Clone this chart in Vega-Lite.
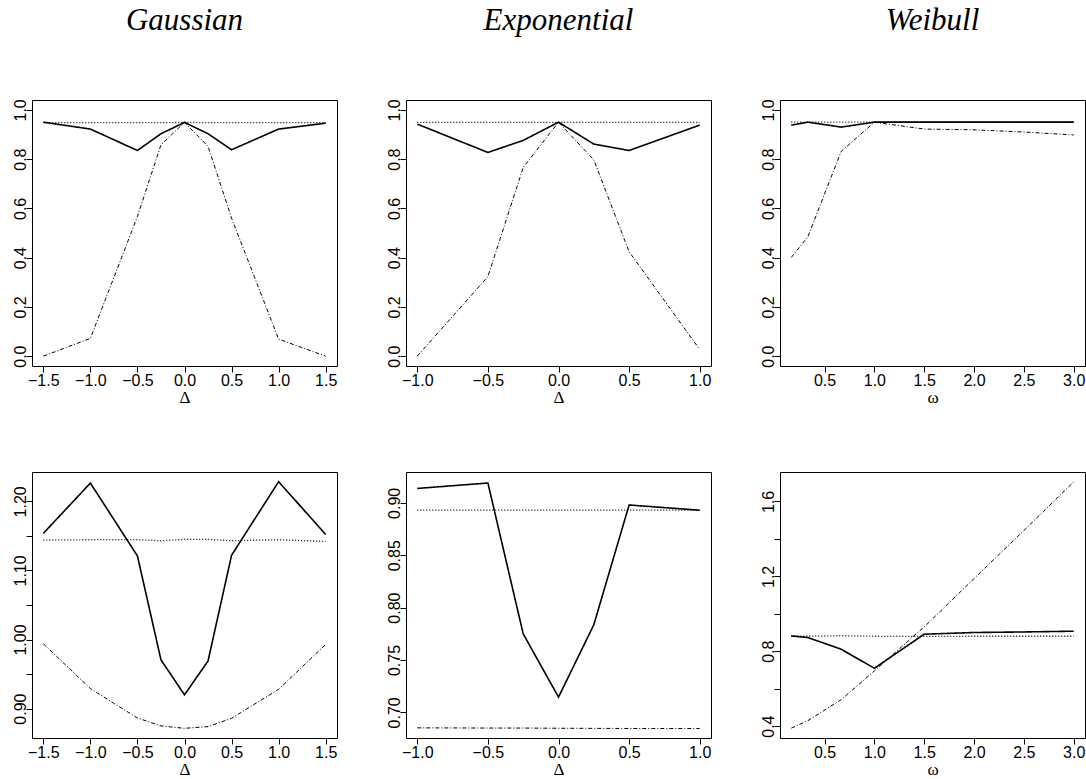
{
  "$schema": "https://vega.github.io/schema/vega-lite/v6.json",
  "padding": {"left": 11, "top": 4, "right": 0, "bottom": 0},
  "background": "white",
  "datasets": {
    "g1": [
      {"x": -1.5, "y": 0.950, "s": "solid"}, {"x": -1.0, "y": 0.922, "s": "solid"}, {"x": -0.5, "y": 0.835, "s": "solid"}, {"x": -0.25, "y": 0.903, "s": "solid"}, {"x": 0.0, "y": 0.949, "s": "solid"}, {"x": 0.25, "y": 0.903, "s": "solid"}, {"x": 0.5, "y": 0.838, "s": "solid"}, {"x": 1.0, "y": 0.922, "s": "solid"}, {"x": 1.5, "y": 0.946, "s": "solid"},
      {"x": -1.5, "y": 0.948, "s": "dotted"}, {"x": -1.0, "y": 0.948, "s": "dotted"}, {"x": -0.5, "y": 0.948, "s": "dotted"}, {"x": -0.25, "y": 0.948, "s": "dotted"}, {"x": 0.0, "y": 0.949, "s": "dotted"}, {"x": 0.25, "y": 0.948, "s": "dotted"}, {"x": 0.5, "y": 0.948, "s": "dotted"}, {"x": 1.0, "y": 0.948, "s": "dotted"}, {"x": 1.5, "y": 0.948, "s": "dotted"},
      {"x": -1.5, "y": 0.000, "s": "dashdot"}, {"x": -1.0, "y": 0.072, "s": "dashdot"}, {"x": -0.5, "y": 0.567, "s": "dashdot"}, {"x": -0.25, "y": 0.858, "s": "dashdot"}, {"x": 0.0, "y": 0.949, "s": "dashdot"}, {"x": 0.25, "y": 0.852, "s": "dashdot"}, {"x": 0.5, "y": 0.560, "s": "dashdot"}, {"x": 1.0, "y": 0.069, "s": "dashdot"}, {"x": 1.5, "y": 0.000, "s": "dashdot"}
    ],
    "e1": [
      {"x": -1.0, "y": 0.942, "s": "solid"}, {"x": -0.5, "y": 0.827, "s": "solid"}, {"x": -0.25, "y": 0.876, "s": "solid"}, {"x": 0.0, "y": 0.950, "s": "solid"}, {"x": 0.25, "y": 0.861, "s": "solid"}, {"x": 0.5, "y": 0.835, "s": "solid"}, {"x": 1.0, "y": 0.938, "s": "solid"},
      {"x": -1.0, "y": 0.949, "s": "dotted"}, {"x": -0.5, "y": 0.949, "s": "dotted"}, {"x": -0.25, "y": 0.949, "s": "dotted"}, {"x": 0.0, "y": 0.949, "s": "dotted"}, {"x": 0.25, "y": 0.949, "s": "dotted"}, {"x": 0.5, "y": 0.949, "s": "dotted"}, {"x": 1.0, "y": 0.949, "s": "dotted"},
      {"x": -1.0, "y": 0.000, "s": "dashdot"}, {"x": -0.5, "y": 0.323, "s": "dashdot"}, {"x": -0.25, "y": 0.766, "s": "dashdot"}, {"x": 0.0, "y": 0.950, "s": "dashdot"}, {"x": 0.25, "y": 0.797, "s": "dashdot"}, {"x": 0.5, "y": 0.424, "s": "dashdot"}, {"x": 1.0, "y": 0.027, "s": "dashdot"}
    ],
    "w1": [
      {"x": 0.1667, "y": 0.938, "s": "solid"}, {"x": 0.3333, "y": 0.950, "s": "solid"}, {"x": 0.6667, "y": 0.930, "s": "solid"}, {"x": 1.0, "y": 0.950, "s": "solid"}, {"x": 1.5, "y": 0.950, "s": "solid"}, {"x": 2.0, "y": 0.950, "s": "solid"}, {"x": 2.5, "y": 0.950, "s": "solid"}, {"x": 3.0, "y": 0.950, "s": "solid"},
      {"x": 0.1667, "y": 0.950, "s": "dotted"}, {"x": 0.3333, "y": 0.950, "s": "dotted"}, {"x": 0.6667, "y": 0.950, "s": "dotted"}, {"x": 1.0, "y": 0.950, "s": "dotted"}, {"x": 1.5, "y": 0.950, "s": "dotted"}, {"x": 2.0, "y": 0.950, "s": "dotted"}, {"x": 2.5, "y": 0.950, "s": "dotted"}, {"x": 3.0, "y": 0.950, "s": "dotted"},
      {"x": 0.1667, "y": 0.401, "s": "dashdot"}, {"x": 0.3333, "y": 0.485, "s": "dashdot"}, {"x": 0.6667, "y": 0.831, "s": "dashdot"}, {"x": 1.0, "y": 0.950, "s": "dashdot"}, {"x": 1.5, "y": 0.922, "s": "dashdot"}, {"x": 2.0, "y": 0.919, "s": "dashdot"}, {"x": 2.5, "y": 0.910, "s": "dashdot"}, {"x": 3.0, "y": 0.898, "s": "dashdot"}
    ],
    "g2": [
      {"x": -1.5, "y": 1.1536, "s": "solid"}, {"x": -1.0, "y": 1.2265, "s": "solid"}, {"x": -0.5, "y": 1.121, "s": "solid"}, {"x": -0.25, "y": 0.9706, "s": "solid"}, {"x": 0.0, "y": 0.920, "s": "solid"}, {"x": 0.25, "y": 0.969, "s": "solid"}, {"x": 0.5, "y": 1.122, "s": "solid"}, {"x": 1.0, "y": 1.2285, "s": "solid"}, {"x": 1.5, "y": 1.152, "s": "solid"},
      {"x": -1.5, "y": 1.144, "s": "dotted"}, {"x": -1.0, "y": 1.1445, "s": "dotted"}, {"x": -0.5, "y": 1.1445, "s": "dotted"}, {"x": -0.25, "y": 1.143, "s": "dotted"}, {"x": 0.0, "y": 1.145, "s": "dotted"}, {"x": 0.25, "y": 1.145, "s": "dotted"}, {"x": 0.5, "y": 1.143, "s": "dotted"}, {"x": 1.0, "y": 1.1445, "s": "dotted"}, {"x": 1.5, "y": 1.142, "s": "dotted"},
      {"x": -1.5, "y": 0.994, "s": "dashdot"}, {"x": -1.0, "y": 0.929, "s": "dashdot"}, {"x": -0.5, "y": 0.8865, "s": "dashdot"}, {"x": -0.25, "y": 0.875, "s": "dashdot"}, {"x": 0.0, "y": 0.8715, "s": "dashdot"}, {"x": 0.25, "y": 0.874, "s": "dashdot"}, {"x": 0.5, "y": 0.886, "s": "dashdot"}, {"x": 1.0, "y": 0.928, "s": "dashdot"}, {"x": 1.5, "y": 0.993, "s": "dashdot"}
    ],
    "e2": [
      {"x": -1.0, "y": 0.9138, "s": "solid"}, {"x": -0.5, "y": 0.919, "s": "solid"}, {"x": -0.25, "y": 0.775, "s": "solid"}, {"x": 0.0, "y": 0.7145, "s": "solid"}, {"x": 0.25, "y": 0.7836, "s": "solid"}, {"x": 0.5, "y": 0.898, "s": "solid"}, {"x": 1.0, "y": 0.893, "s": "solid"},
      {"x": -1.0, "y": 0.893, "s": "dotted"}, {"x": -0.5, "y": 0.893, "s": "dotted"}, {"x": -0.25, "y": 0.893, "s": "dotted"}, {"x": 0.0, "y": 0.893, "s": "dotted"}, {"x": 0.25, "y": 0.893, "s": "dotted"}, {"x": 0.5, "y": 0.893, "s": "dotted"}, {"x": 1.0, "y": 0.893, "s": "dotted"},
      {"x": -1.0, "y": 0.6852, "s": "dashdot"}, {"x": -0.5, "y": 0.685, "s": "dashdot"}, {"x": -0.25, "y": 0.685, "s": "dashdot"}, {"x": 0.0, "y": 0.6848, "s": "dashdot"}, {"x": 0.25, "y": 0.6847, "s": "dashdot"}, {"x": 0.5, "y": 0.6846, "s": "dashdot"}, {"x": 1.0, "y": 0.6846, "s": "dashdot"}
    ],
    "w2": [
      {"x": 0.1667, "y": 0.882, "s": "solid"}, {"x": 0.3333, "y": 0.873, "s": "solid"}, {"x": 0.6667, "y": 0.811, "s": "solid"}, {"x": 1.0, "y": 0.709, "s": "solid"}, {"x": 1.5, "y": 0.891, "s": "solid"}, {"x": 2.0, "y": 0.900, "s": "solid"}, {"x": 2.5, "y": 0.903, "s": "solid"}, {"x": 3.0, "y": 0.907, "s": "solid"},
      {"x": 0.1667, "y": 0.880, "s": "dotted"}, {"x": 0.3333, "y": 0.880, "s": "dotted"}, {"x": 0.6667, "y": 0.883, "s": "dotted"}, {"x": 1.0, "y": 0.880, "s": "dotted"}, {"x": 1.5, "y": 0.879, "s": "dotted"}, {"x": 2.0, "y": 0.880, "s": "dotted"}, {"x": 2.5, "y": 0.880, "s": "dotted"}, {"x": 3.0, "y": 0.880, "s": "dotted"},
      {"x": 0.1667, "y": 0.389, "s": "dashdot"}, {"x": 0.3333, "y": 0.429, "s": "dashdot"}, {"x": 0.6667, "y": 0.541, "s": "dashdot"}, {"x": 1.0, "y": 0.695, "s": "dashdot"}, {"x": 1.5, "y": 0.930, "s": "dashdot"}, {"x": 2.0, "y": 1.188, "s": "dashdot"}, {"x": 2.5, "y": 1.445, "s": "dashdot"}, {"x": 3.0, "y": 1.705, "s": "dashdot"}
    ]
  },
  "config": {
    "view": {"stroke": "black", "strokeWidth": 1},
    "axis": {"grid": false, "domain": false, "ticks": true, "tickColor": "black", "tickSize": 6, "tickWidth": 1,
      "labelFont": "Liberation Sans", "labelFontSize": 16, "labelColor": "black",
      "titleFont": "Liberation Serif", "titleFontWeight": "normal", "titleFontSize": 17, "titleColor": "black"},
    "axisY": {"labelAngle": -90, "labelAlign": "center", "labelBaseline": "alphabetic", "labelPadding": 1, "title": null},
    "axisX": {"labelPadding": 0, "titlePadding": 1, "labelFlush": false, "labelOverlap": false},
    "title": {"font": "Liberation Serif", "fontStyle": "italic", "fontWeight": "normal", "fontSize": 31, "color": "black", "anchor": "middle", "frame": "group", "baseline": "alphabetic", "offset": 62},
    "line": {"color": "black"}
  },
  "spacing": 65,
  "vconcat": [
    {
      "spacing": 47,
      "hconcat": [
        {
          "data": {"name": "g1"}, "width": 305, "height": 266, "title": "Gaussian",
          "mark": {"type": "line"},
          "encoding": {
            "x": {"field": "x", "type": "quantitative", "scale": {"domain": [-1.62, 1.62], "nice": false, "zero": false}, "axis": {"values": [-1.5, -1, -0.5, 0, 0.5, 1, 1.5], "format": ".1f", "title": "Δ"}},
            "y": {"field": "y", "type": "quantitative", "scale": {"domain": [-0.04, 1.04], "nice": false, "zero": false}, "axis": {"values": [0, 0.2, 0.4, 0.6, 0.8, 1.0], "format": ".1f"}},
            "strokeDash": {"field": "s", "type": "nominal", "scale": {"domain": ["solid", "dotted", "dashdot"], "range": [[1, 0], [1, 2], [4, 2, 1, 2]]}, "legend": null},
            "strokeWidth": {"field": "s", "type": "ordinal", "scale": {"domain": ["solid", "dotted", "dashdot"], "range": [1.6, 1, 1]}, "legend": null}
          }
        },
        {
          "data": {"name": "e1"}, "width": 305, "height": 266, "title": "Exponential",
          "mark": {"type": "line"},
          "encoding": {
            "x": {"field": "x", "type": "quantitative", "scale": {"domain": [-1.08, 1.08], "nice": false, "zero": false}, "axis": {"values": [-1, -0.5, 0, 0.5, 1], "format": ".1f", "title": "Δ"}},
            "y": {"field": "y", "type": "quantitative", "scale": {"domain": [-0.04, 1.04], "nice": false, "zero": false}, "axis": {"values": [0, 0.2, 0.4, 0.6, 0.8, 1.0], "format": ".1f"}},
            "strokeDash": {"field": "s", "type": "nominal", "scale": {"domain": ["solid", "dotted", "dashdot"], "range": [[1, 0], [1, 2], [4, 2, 1, 2]]}, "legend": null},
            "strokeWidth": {"field": "s", "type": "ordinal", "scale": {"domain": ["solid", "dotted", "dashdot"], "range": [1.6, 1, 1]}, "legend": null}
          }
        },
        {
          "data": {"name": "w1"}, "width": 305, "height": 266, "title": "Weibull",
          "mark": {"type": "line"},
          "encoding": {
            "x": {"field": "x", "type": "quantitative", "scale": {"domain": [0.0533, 3.1133], "nice": false, "zero": false}, "axis": {"values": [0.5, 1, 1.5, 2, 2.5, 3], "format": ".1f", "title": "ω"}},
            "y": {"field": "y", "type": "quantitative", "scale": {"domain": [-0.04, 1.04], "nice": false, "zero": false}, "axis": {"values": [0, 0.2, 0.4, 0.6, 0.8, 1.0], "format": ".1f"}},
            "strokeDash": {"field": "s", "type": "nominal", "scale": {"domain": ["solid", "dotted", "dashdot"], "range": [[1, 0], [1, 2], [4, 2, 1, 2]]}, "legend": null},
            "strokeWidth": {"field": "s", "type": "ordinal", "scale": {"domain": ["solid", "dotted", "dashdot"], "range": [1.6, 1, 1]}, "legend": null}
          }
        }
      ]
    },
    {
      "spacing": 47,
      "hconcat": [
        {
          "data": {"name": "g2"}, "width": 305, "height": 266,
          "mark": {"type": "line"},
          "encoding": {
            "x": {"field": "x", "type": "quantitative", "scale": {"domain": [-1.62, 1.62], "nice": false, "zero": false}, "axis": {"values": [-1.5, -1, -0.5, 0, 0.5, 1, 1.5], "format": ".1f", "title": "Δ"}},
            "y": {"field": "y", "type": "quantitative", "scale": {"domain": [0.8575, 1.2425], "nice": false, "zero": false}, "axis": {"values": [0.9, 0.95, 1.0, 1.05, 1.1, 1.15, 1.2], "labelExpr": "abs(datum.value * 10 - round(datum.value * 10)) < 0.001 ? format(datum.value, '.2f') : ''"}},
            "strokeDash": {"field": "s", "type": "nominal", "scale": {"domain": ["solid", "dotted", "dashdot"], "range": [[1, 0], [1, 2], [4, 2, 1, 2]]}, "legend": null},
            "strokeWidth": {"field": "s", "type": "ordinal", "scale": {"domain": ["solid", "dotted", "dashdot"], "range": [1.3, 1, 1]}, "legend": null}
          }
        },
        {
          "data": {"name": "e2"}, "width": 305, "height": 266,
          "mark": {"type": "line"},
          "encoding": {
            "x": {"field": "x", "type": "quantitative", "scale": {"domain": [-1.08, 1.08], "nice": false, "zero": false}, "axis": {"values": [-1, -0.5, 0, 0.5, 1], "format": ".1f", "title": "Δ"}},
            "y": {"field": "y", "type": "quantitative", "scale": {"domain": [0.6755, 0.9295], "nice": false, "zero": false}, "axis": {"values": [0.7, 0.75, 0.8, 0.85, 0.9], "format": ".2f"}},
            "strokeDash": {"field": "s", "type": "nominal", "scale": {"domain": ["solid", "dotted", "dashdot"], "range": [[1, 0], [1, 2], [4, 2, 1, 2]]}, "legend": null},
            "strokeWidth": {"field": "s", "type": "ordinal", "scale": {"domain": ["solid", "dotted", "dashdot"], "range": [1.3, 1, 1]}, "legend": null}
          }
        },
        {
          "data": {"name": "w2"}, "width": 305, "height": 266,
          "mark": {"type": "line"},
          "encoding": {
            "x": {"field": "x", "type": "quantitative", "scale": {"domain": [0.0533, 3.1133], "nice": false, "zero": false}, "axis": {"values": [0.5, 1, 1.5, 2, 2.5, 3], "format": ".1f", "title": "ω"}},
            "y": {"field": "y", "type": "quantitative", "scale": {"domain": [0.3364, 1.7576], "nice": false, "zero": false}, "axis": {"values": [0.4, 0.6, 0.8, 1.0, 1.2, 1.4, 1.6], "labelExpr": "abs(datum.value / 0.4 - round(datum.value / 0.4)) < 0.001 ? format(datum.value, '.1f') : ''"}},
            "strokeDash": {"field": "s", "type": "nominal", "scale": {"domain": ["solid", "dotted", "dashdot"], "range": [[1, 0], [1, 2], [4, 2, 1, 2]]}, "legend": null},
            "strokeWidth": {"field": "s", "type": "ordinal", "scale": {"domain": ["solid", "dotted", "dashdot"], "range": [1.3, 1, 1]}, "legend": null}
          }
        }
      ]
    }
  ]
}
